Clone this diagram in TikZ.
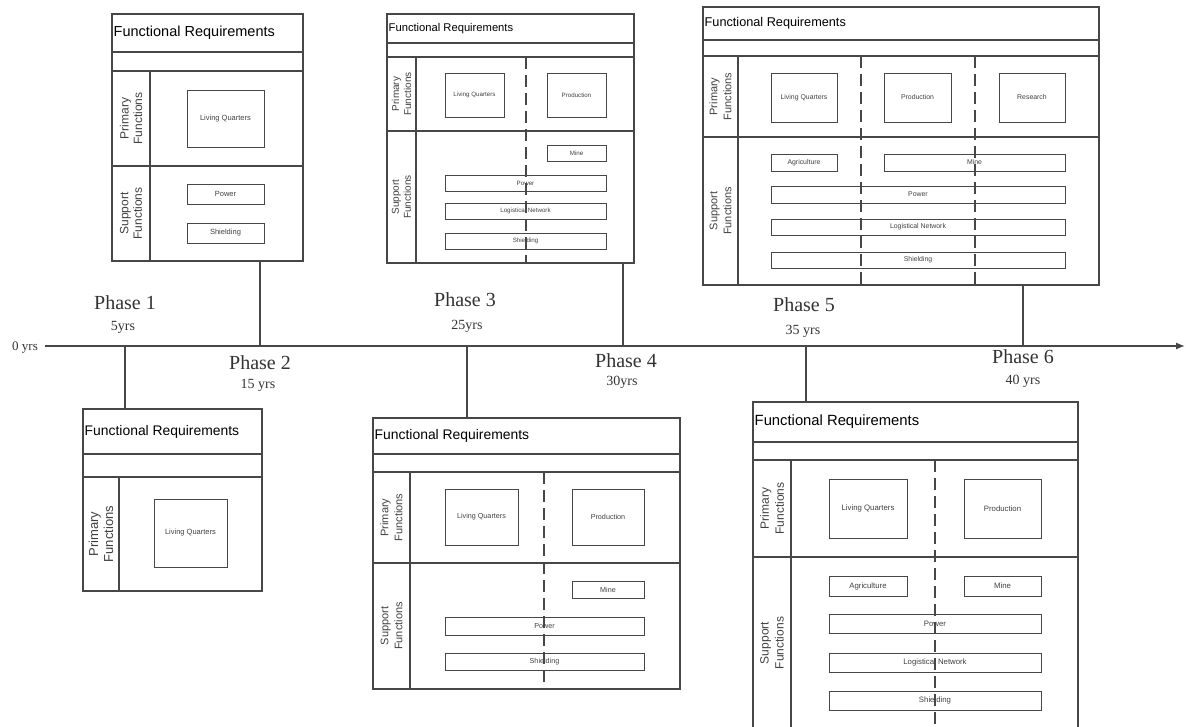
\documentclass[tikz,border=0pt]{standalone}
\usepackage{fontspec}
\setmainfont{Liberation Serif}
\setsansfont{Liberation Sans}
\usetikzlibrary{arrows.meta}

\tikzset{
    ln/.style={draw=black!72, line width=1.3pt},
    frame/.style={ln, inner sep=0pt},
    fbox/.style={draw=black!72, line width=0.9pt, inner sep=0pt, text=black!75, font=\sffamily\fontsize{#1}{#1}\selectfont},
    ttl/.style={anchor=west, inner sep=0pt, font=\sffamily\fontsize{#1}{#1}\selectfont},
    side/.style 2 args={rotate=90, align=center, inner sep=0pt, text=black!75, font=\sffamily\fontsize{#1}{#2}\selectfont},
    sepline/.style={ln, dash pattern=on 12pt off 6pt},
    phase/.style={inner sep=0pt, text=black!80, font=\fontsize{20}{20}\selectfont},
    yrs/.style={inner sep=0pt, text=black!80, font=\fontsize{14}{14}\selectfont}
}

\begin{document}
\begin{tikzpicture}[x=1pt, y=-1pt]
            \useasboundingbox (0,0) rectangle (1186,727);
            \clip (0,0) rectangle (1186,727);

            \coordinate (t0) at (45,346);
            \coordinate (tend) at (1185,346);
            \coordinate (t1) at (125,346);
            \coordinate (t2) at (260,346);
            \coordinate (t3) at (467,346);
            \coordinate (t4) at (623,346);
            \coordinate (t5) at (806,346);
            \coordinate (t6) at (1023,346);

            \draw[ln, -{Latex[length=9pt, width=7pt]}] (t0) -- (tend);
            \node[yrs, font=\fontsize{13}{13}\selectfont] (y0) at (25,348) {0 yrs};

            \node[phase] (ph1) at (125,303) {Phase 1};
            \node[yrs] (y1) at (123,327) {5yrs};
            \node[phase] (ph2) at (260,363) {Phase 2};
            \node[yrs] (y2) at (258,385) {15 yrs};
            \node[phase] (ph3) at (465,300) {Phase 3};
            \node[yrs] (y3) at (467,326) {25yrs};
            \node[phase] (ph4) at (626,361) {Phase 4};
            \node[yrs] (y4) at (622,382) {30yrs};
            \node[phase] (ph5) at (804,305) {Phase 5};
            \node[yrs] (y5) at (803,331) {35 yrs};
            \node[phase] (ph6) at (1023,357) {Phase 6};
            \node[yrs] (y6) at (1023,381) {40 yrs};

            % phase 2 panel
            \node[frame, minimum width=191, minimum height=247] (pA) at (207.5,137.5) {};
            \draw[ln] (112,52) -- (303,52);
            \draw[ln] (112,71) -- (303,71);
            \draw[ln] (150,71) -- (150,261);
            \draw[ln] (112,166) -- (303,166);
            \node[ttl=14.5] (ftA) at (113.5,33) {Functional Requirements};
            \node[side={12}{13.5}] (prA) at (131,118.5) {Primary\\Functions};
            \node[side={12}{13.5}] (suA) at (131,213.5) {Support\\Functions};
            \node[fbox=7.5, minimum width=77, minimum height=57] (lqA) at (225.5,118.5) {Living Quarters};
            \node[fbox=7.5, minimum width=77, minimum height=20] (pwA) at (225.5,194) {Power};
            \node[fbox=7.5, minimum width=77, minimum height=20] (shA) at (225.5,233) {Shielding};
            \draw[ln] (t2 |- pA.south) -- (t2);

            % phase 4 panel
            \node[frame, minimum width=247, minimum height=249] (pB) at (510.5,138.5) {};
            \draw[ln] (387,43) -- (634,43);
            \draw[ln] (387,57) -- (634,57);
            \draw[ln] (416,57) -- (416,263);
            \draw[ln] (387,131) -- (634,131);
            \node[ttl=11.2] (ftB) at (388.5,28.5) {Functional Requirements};
            \node[side={10}{12}] (prB) at (401.5,94) {Primary\\Functions};
            \node[side={10}{12}] (suB) at (401.5,197) {Support\\Functions};
            \node[fbox=6.2, minimum width=59, minimum height=44] (lqB) at (474.5,95) {Living Quarters};
            \node[fbox=6.2, minimum width=59, minimum height=44] (prodB) at (576.5,95) {Production};
            \node[fbox=6.2, minimum width=59, minimum height=16] (miB) at (576.5,153) {Mine};
            \node[fbox=6.2, minimum width=161, minimum height=16] (pwB) at (525.5,183) {Power};
            \node[fbox=6.2, minimum width=161, minimum height=16] (lnB) at (525.5,211) {Logistical Network};
            \node[fbox=6.2, minimum width=161, minimum height=16] (shB) at (525.5,241) {Shielding};
            \draw[sepline] (526,57) -- (526,263);
            \draw[ln] (t4 |- pB.south) -- (t4);

            % phase 6 panel
            \node[frame, minimum width=396, minimum height=278] (pC) at (901,146) {};
            \draw[ln] (703,40) -- (1099,40);
            \draw[ln] (703,56) -- (1099,56);
            \draw[ln] (738,56) -- (738,285);
            \draw[ln] (703,137) -- (1099,137);
            \node[ttl=12.7] (ftC) at (704.5,23.5) {Functional Requirements};
            \node[side={11}{14}] (prC) at (720.5,96.5) {Primary\\Functions};
            \node[side={11}{14}] (suC) at (720.5,211) {Support\\Functions};
            \node[fbox=6.9, minimum width=66, minimum height=49] (lqC) at (804,97.5) {Living Quarters};
            \node[fbox=6.9, minimum width=67, minimum height=49] (prodC) at (917.5,97.5) {Production};
            \node[fbox=6.9, minimum width=66, minimum height=49] (reC) at (1032,97.5) {Research};
            \node[fbox=6.9, minimum width=66, minimum height=17] (agC) at (804,162.5) {Agriculture};
            \node[fbox=6.9, minimum width=181, minimum height=17] (miC) at (974.5,162.5) {Mine};
            \node[fbox=6.9, minimum width=294, minimum height=17] (pwC) at (918,194.5) {Power};
            \node[fbox=6.9, minimum width=294, minimum height=16] (lnC) at (918,227) {Logistical Network};
            \node[fbox=6.9, minimum width=294, minimum height=16] (shC) at (918,260) {Shielding};
            \draw[sepline] (861,56) -- (861,285);
            \draw[sepline] (975,56) -- (975,285);
            \draw[ln] (t6 |- pC.south) -- (t6);

            % phase 1 panel
            \node[frame, minimum width=179, minimum height=182] (pD) at (172.5,500) {};
            \draw[ln] (83,454) -- (262,454);
            \draw[ln] (83,477) -- (262,477);
            \draw[ln] (119,477) -- (119,591);
            \node[ttl=13.9] (ftD) at (84.5,431.5) {Functional Requirements};
            \node[side={13}{15}] (prD) at (101,534) {Primary\\Functions};
            \node[fbox=7.5, minimum width=73, minimum height=68] (lqD) at (190.5,533) {Living Quarters};
            \draw[ln] (t1) -- (t1 |- pD.north);

            % phase 3 panel
            \node[frame, minimum width=307, minimum height=271] (pE) at (526.5,553.5) {};
            \draw[ln] (373,454) -- (680,454);
            \draw[ln] (373,472) -- (680,472);
            \draw[ln] (410,472) -- (410,689);
            \draw[ln] (373,563) -- (680,563);
            \node[ttl=13.9] (ftE) at (374.5,436) {Functional Requirements};
            \node[side={11}{14}] (prE) at (391.5,517.5) {Primary\\Functions};
            \node[side={11}{14}] (suE) at (391.5,626) {Support\\Functions};
            \node[fbox=7.2, minimum width=73, minimum height=56] (lqE) at (481.5,517) {Living Quarters};
            \node[fbox=7.2, minimum width=72, minimum height=56] (prodE) at (608,517) {Production};
            \node[fbox=7.2, minimum width=72, minimum height=17] (miE) at (608,589.5) {Mine};
            \node[fbox=7.2, minimum width=199, minimum height=18] (pwE) at (544.5,626) {Power};
            \node[fbox=7.2, minimum width=199, minimum height=17] (shE) at (544.5,661.5) {Shielding};
            \draw[sepline] (544,472) -- (544,689);
            \draw[ln] (t3) -- (t3 |- pE.north);

            % phase 5 panel
            \node[frame, minimum width=325, minimum height=343] (pF) at (915.5,573.5) {};
            \draw[ln] (753,442) -- (1078,442);
            \draw[ln] (753,460) -- (1078,460);
            \draw[ln] (791,460) -- (791,745);
            \draw[ln] (753,557) -- (1078,557);
            \node[ttl=14.8] (ftF) at (754.5,422) {Functional Requirements};
            \node[side={12}{15}] (prF) at (772,508.5) {Primary\\Functions};
            \node[side={12}{15}] (suF) at (772,643) {Support\\Functions};
            \node[fbox=7.8, minimum width=78, minimum height=59] (lqF) at (868,508.5) {Living Quarters};
            \node[fbox=7.8, minimum width=77, minimum height=59] (prodF) at (1002.5,508.5) {Production};
            \node[fbox=7.8, minimum width=78, minimum height=20] (agF) at (868,586) {Agriculture};
            \node[fbox=7.8, minimum width=77, minimum height=20] (miF) at (1002.5,586) {Mine};
            \node[fbox=7.8, minimum width=212, minimum height=19] (pwF) at (935,623.5) {Power};
            \node[fbox=7.8, minimum width=212, minimum height=19] (lnF) at (935,662.5) {Logistical Network};
            \node[fbox=7.8, minimum width=212, minimum height=19] (shF) at (935,700.5) {Shielding};
            \draw[sepline] (935,460) -- (935,745);
            \draw[ln] (t5) -- (t5 |- pF.north);

\end{tikzpicture}
\end{document}
